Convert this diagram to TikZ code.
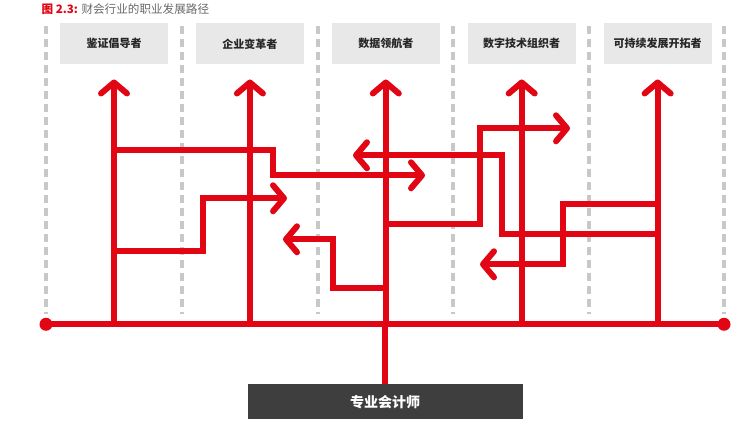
\documentclass[tikz,border=0pt]{standalone}
\usepackage{fontspec}
\setmainfont{Noto Sans CJK SC}
\usetikzlibrary{positioning,calc,arrows.meta}
\definecolor{hred}{RGB}{226,6,20}
\definecolor{boxgray}{RGB}{232,232,232}
\definecolor{dashgray}{RGB}{200,200,200}
\definecolor{darkbox}{RGB}{62,62,62}
\definecolor{titlegray}{RGB}{105,105,105}

\begin{document}
\begin{tikzpicture}[x=1pt, y=-1pt,
    role/.style={fill=boxgray, inner sep=0pt, minimum width=108pt, minimum height=41pt,
      font=\bfseries\fontsize{11}{13}\selectfont, text=black!85},
    guide/.style={dashgray, line width=3.5pt, dash pattern=on 8pt off 5pt},
    route/.style={hred, line width=6pt},
    tip/.style={-{Straight Barb[length=11pt,width=26pt,round]}}]
    \fill[white] (0,0) rectangle (754,424);

    \node[anchor=west, font=\fontsize{11.6}{13}\selectfont] (title) at (38,7.5)
      {\textcolor{hred}{\bfseries 图 2.3:} \textcolor{titlegray}{财会行业的职业发展路径}};

    % dashed guides
    \draw[guide] (46,25) -- (46,313);
    \draw[guide] (182,25) -- (182,313);
    \draw[guide] (318,25) -- (318,313);
    \draw[guide] (453,25) -- (453,313);
    \draw[guide] (589,25) -- (589,313);
    \draw[guide] (724,25) -- (724,313);

    % roles
    \node[role] (r1) at (114,42.5) {鉴证倡导者};
    \node[role, right=27.5pt of r1] (r2) {企业变革者};
    \node[role, right=27.5pt of r2] (r3) {数据领航者};
    \node[role, right=27.5pt of r3] (r4) {数字技术组织者};
    \node[role, right=27.5pt of r4] (r5) {可持续发展开拓者};

    \node[fill=darkbox, text=white, minimum width=275pt, minimum height=35pt,
      font=\bfseries\fontsize{14}{16}\selectfont] (acc) at (385,400.5) {专业会计师};

    \coordinate (left) at (46,323);
    \coordinate (right) at (724,323);

    \draw[route] (left) -- (right);
    \fill[hred] (left) circle (6.5pt);
    \fill[hred] (right) circle (6.5pt);
    \draw[route] (acc.north) -- (acc.north |- left);

    \draw[route, tip] (r1.south |- left) -- ([yshift=-15pt]r1.south);
    \draw[route, tip] (r2.south |- left) -- ([yshift=-15pt]r2.south);
    \draw[route, tip] (r3.south |- left) -- ([yshift=-15pt]r3.south);
    \draw[route, tip] (r4.south |- left) -- ([yshift=-15pt]r4.south);
    \draw[route, tip] (r5.south |- left) -- ([yshift=-15pt]r5.south);

    % crossings between careers
    \draw[route, tip] (r1 |- 0,149) -| (273,174) -- (425,174);
    \draw[route, tip] (r1 |- 0,250) -| (203,197) -- (287,197);
    \draw[route, tip] (r3 |- 0,287) -| (333,238) -- (283,238);
    \draw[route, tip] (r5 |- 0,233) -| (502,154) -- (353,154);
    \draw[route, tip] (r3 |- 0,223) -| (480,127) -- (570,127);
    \draw[route, tip] (r5 |- 0,203) -| (563,263) -- (480,263);
\end{tikzpicture}
\end{document}
